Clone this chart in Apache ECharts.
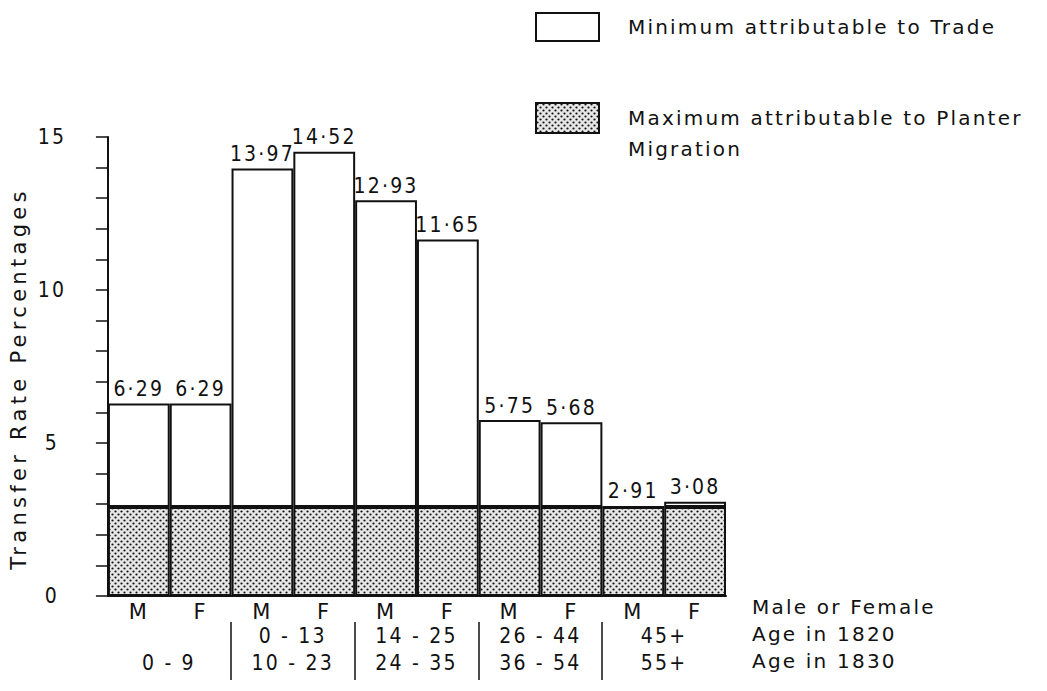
<!DOCTYPE html>
<html><head><meta charset="utf-8">
<script src="https://cdn.jsdelivr.net/npm/echarts@6/dist/echarts.min.js"></script>
<style>
html,body{margin:0;padding:0;background:#fff}
#main{width:1047px;height:691px}
#main text{letter-spacing:2.2px}
</style>
</head><body><div id="main"></div>
<script>
// ---- data ----
const sexLabels = ['M','F','M','F','M','F','M','F','M','F'];
const totals = [6.29, 6.29, 13.97, 14.52, 12.93, 11.65, 5.75, 5.68, 2.91, 3.08];
const planter = [2.91, 2.91, 2.91, 2.91, 2.91, 2.91, 2.91, 2.91, 2.91, 2.91];
const age1820 = ['', '0 - 13', '14 - 25', '26 - 44', '45+'];
const age1830 = ['0 - 9', '10 - 23', '24 - 35', '36 - 54', '55+'];
const yTicks = [0, 5, 10, 15];
const seriesNames = ['Minimum attributable to Trade', 'Maximum attributable to Planter Migration'];
const rowTitles = ['Male or Female', 'Age in 1820', 'Age in 1830'];
const yAxisTitle = 'Transfer Rate Percentages';

const trade = totals.map((t, i) => +(t - planter[i]).toFixed(2));

function dotPattern() {
  const c = document.createElement('canvas');
  c.width = 6; c.height = 6;
  const g = c.getContext('2d');
  g.fillStyle = '#e6e6e6';
  g.fillRect(0, 0, 6, 6);
  g.fillStyle = '#111';
  [[1.5, 1.5], [4.5, 4.5]].forEach(([x, y]) => {
    g.beginPath(); g.arc(x, y, 1.1, 0, Math.PI * 2); g.fill();
  });
  return c;
}

const INK = '#111';
const NUMFONT = '"DejaVu Sans Condensed", "DejaVu Sans", sans-serif';
const WORDFONT = '"DejaVu Sans", sans-serif';

const chart = echarts.init(document.getElementById('main'), null, {renderer: 'svg'});
const option = {
  animation: false,
  backgroundColor: '#fff',
  textStyle: {fontFamily: WORDFONT, color: INK},
  grid: [
    {left: 107, right: 321, top: 137, bottom: 95},
    {left: 107, right: 321, top: 622, bottom: 11}
  ],
  legend: [
    {
      left: 535, top: 12, padding: 0, orient: 'vertical', icon: 'rect',
      itemWidth: 63, itemHeight: 28, selectedMode: false,
      data: [seriesNames[0]],
      textStyle: {fontSize: 20, color: INK, fontFamily: WORDFONT, padding: [0, 0, 0, 24]}
    },
    {
      left: 535, top: 71.5, padding: 0, orient: 'vertical', icon: 'rect',
      itemWidth: 63, itemHeight: 30, selectedMode: false,
      data: [seriesNames[1]],
      formatter: n => '\n' + n.replace(' Migration', '\nMigration'),
      textStyle: {fontSize: 20, lineHeight: 31, color: INK, fontFamily: WORDFONT, padding: [0, 0, 0, 24]}
    }
  ],
  xAxis: [
    {
      type: 'category', gridIndex: 0, data: sexLabels,
      axisLine: {lineStyle: {color: '#111', width: 2}},
      axisTick: {show: false},
      axisLabel: {interval: 0, margin: 5, fontSize: 21, fontFamily: WORDFONT, color: INK}
    },
    {
      type: 'category', gridIndex: 1, position: 'top',
      data: age1820.map((a, i) => a + '\n' + age1830[i]),
      axisLine: {show: false}, axisTick: {show: false},
      axisLabel: {inside: true, interval: 0, margin: 0, fontSize: 21, lineHeight: 27, fontFamily: NUMFONT, color: INK},
      splitLine: {show: true, interval: 0, showMinLine: false, showMaxLine: false, lineStyle: {color: '#111', width: 1.5}}
    }
  ],
  yAxis: [
    {
      type: 'value', gridIndex: 0,
      min: yTicks[0], max: yTicks[yTicks.length - 1], interval: yTicks[1] - yTicks[0],
      name: yAxisTitle, nameLocation: 'middle', nameGap: 70,
      nameTextStyle: {fontSize: 21, color: INK, fontFamily: WORDFONT, padding: [0, 24, 0, 0]},
      axisLine: {show: true, lineStyle: {color: '#111', width: 2}},
      axisTick: {show: true, length: 12, lineStyle: {color: '#111', width: 1.5}},
      minorTick: {show: true, splitNumber: 5, length: 12, lineStyle: {color: '#111', width: 1.5}},
      splitLine: {show: false},
      axisLabel: {margin: 56, align: 'center', fontSize: 21, fontFamily: NUMFONT, color: INK}
    },
    {type: 'value', gridIndex: 1, show: false}
  ],
  series: [
    {
      name: seriesNames[1], type: 'bar', stack: 'total', xAxisIndex: 0, yAxisIndex: 0,
      data: planter, barWidth: '100%',
      itemStyle: {color: {image: dotPattern(), repeat: 'repeat'}, borderColor: '#111', borderWidth: 2},
      emphasis: {disabled: true}
    },
    {
      name: seriesNames[0], type: 'bar', stack: 'total', xAxisIndex: 0, yAxisIndex: 0,
      data: trade, barWidth: '100%',
      itemStyle: {color: '#fff', borderColor: '#111', borderWidth: 2},
      emphasis: {disabled: true},
      label: {
        show: true, position: 'top', distance: 4, fontSize: 21, fontFamily: NUMFONT, color: INK,
        formatter: p => totals[p.dataIndex].toFixed(2).replace('.', '·')
      }
    }
  ],
  graphic: rowTitles.map((t, i) => ({
    type: 'text', left: 752, top: 597 + i * 27,
    style: {text: t, fontSize: 20, fontFamily: WORDFONT, fill: INK}
  }))
};
chart.on('finished', () => {
  document.querySelectorAll('#main text').forEach(el => {
    if (el.textContent === yAxisTitle) el.style.letterSpacing = '4.3px';
  });
});
chart.setOption(option);
</script>
</body></html>
